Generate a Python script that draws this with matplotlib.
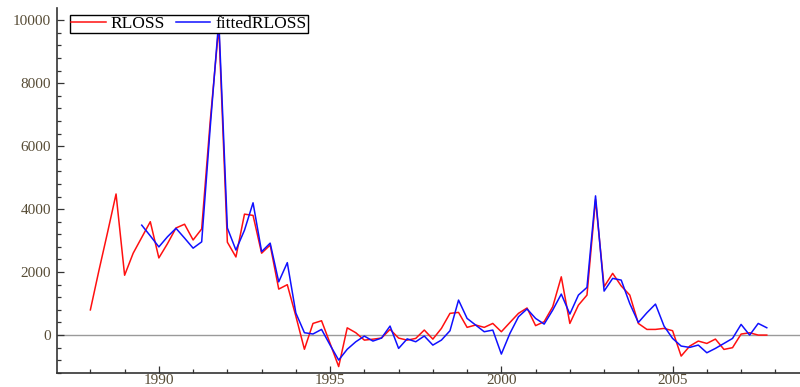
import numpy as np
import matplotlib
matplotlib.use("Agg")
import matplotlib.pyplot as plt
from matplotlib.ticker import MultipleLocator

# quarterly losses, 1988Q1 .. 2007Q4
rloss = [800, 2050, 3250, 4480,
         1900, 2600, 3100, 3600,
         2450, 2900, 3400, 3520,
         3020, 3370, 6800, 9800,
         2950, 2480, 3840, 3800,
         2600, 2860, 1460, 1600,
         600, -450, 370, 455,
         -265, -1000, 230, 75,
         -160, -130, -95, 180,
         -95, -160, -106, 160,
         -128, 212, 690, 720,
         245, 320, 245, 370,
         106, 400, 690, 860,
         300, 425, 900, 1850,
         370, 950, 1270, 4300,
         1535, 1960, 1560, 1270,
         370, 180, 180, 212,
         138, -667, -350, -190,
         -265, -127, -455, -400,
         32, 74, 0, 0]

# fitted values start at 1989Q3
fitted = [3490, 3150,
          2800, 3120, 3390, 3080,
          2760, 2960, 6600, 10000,
          3400, 2700, 3330, 4200,
          2650, 2920, 1690, 2300,
          700, 75, 35, 180,
          -317, -794, -450, -212,
          -32, -190, -95, 286,
          -423, -120, -212, -30,
          -318, -159, 138, 1111,
          529, 318, 106, 159,
          -603, 53, 582, 830,
          529, 349, 794, 1302,
          667, 1270, 1514, 4420,
          1397, 1800, 1746, 1000,
          400, 709, 984, 286,
          -106, -349, -391, -317,
          -561, -423, -265, -106,
          339, 0, 370, 233]

t_rloss = 1988 + 0.25 * np.arange(len(rloss))
t_fitted = 1989.5 + 0.25 * np.arange(len(fitted))

plt.rcParams['font.family'] = ['Liberation Serif', 'DejaVu Serif']

fig = plt.figure(figsize=(8, 3.87), dpi=100)
ax = fig.add_axes([0.071, 0.036, 0.929, 0.943])

ax.axhline(0, color='#9a9a9a', lw=1.0, zorder=1)
ax.plot(t_rloss, rloss, color='#ff1010', lw=1.1, label='RLOSS', zorder=2)
ax.plot(t_fitted, fitted, color='#1010ff', lw=1.1, label='fittedRLOSS', zorder=3)

ax.set_xlim(1987.02, 2008.72)
ax.set_ylim(-1206, 10381)

for s in ['top', 'right']:
    ax.spines[s].set_visible(False)
for s in ['left', 'bottom']:
    ax.spines[s].set_color('#333333')
    ax.spines[s].set_linewidth(1.2)

ax.xaxis.set_major_locator(MultipleLocator(5))
ax.xaxis.set_minor_locator(MultipleLocator(1))
ax.yaxis.set_major_locator(MultipleLocator(2000))
ax.yaxis.set_minor_locator(MultipleLocator(400))
ax.tick_params(which='both', direction='in', colors='#333333',
               labelcolor='#574c36', labelsize=11)
ax.tick_params(which='major', length=5, width=0.9)
ax.tick_params(which='minor', length=3, width=0.9)
ax.tick_params(axis='x', pad=1)
ax.tick_params(axis='y', pad=4)

leg = fig.legend(loc='upper left', bbox_to_anchor=(0.0875, 0.962), ncol=2,
                 fontsize=12.5, frameon=True, fancybox=False, framealpha=1,
                 edgecolor='black', borderpad=0.05, handlelength=2.0,
                 handletextpad=0.3, columnspacing=0.6, borderaxespad=0)
leg.get_frame().set_linewidth(1.0)

fig.savefig('out.png', dpi=100)
